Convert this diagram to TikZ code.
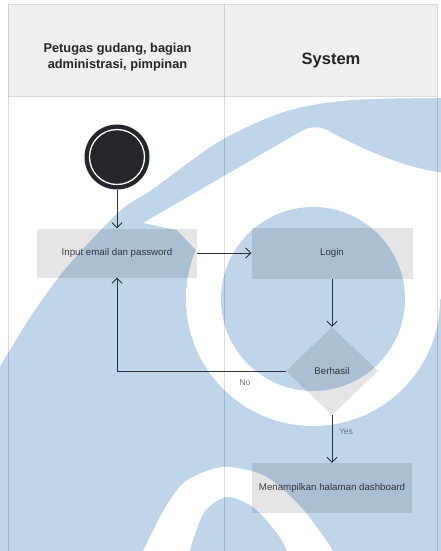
\documentclass[tikz,border=0pt]{standalone}
\usepackage{fontspec}
\setmainfont{Liberation Sans}
\usetikzlibrary{shapes.geometric,arrows.meta}

\definecolor{wmblue}{RGB}{190,213,234}
\definecolor{hdrgrey}{RGB}{239,239,239}
\definecolor{ink}{RGB}{45,48,54}

\begin{document}
\begin{tikzpicture}[x=1pt,y=-1pt,
  act/.style={rectangle, fill=black, fill opacity=0.1, text=black, text opacity=0.72,
    minimum width=160pt, minimum height=50pt, inner sep=2pt,
    font=\fontsize{9.7}{11}\selectfont},
  decision/.style={diamond, fill=black, fill opacity=0.1, text=black, text opacity=0.72,
    minimum width=92pt, minimum height=88pt, inner sep=0pt,
    font=\fontsize{9.7}{11}\selectfont},
  startnode/.style={circle, fill=ink!80!black, minimum size=65pt, inner sep=0pt},
  conn/.style={draw=ink, line width=0.9pt, -{Straight Barb[length=5pt,width=10pt]}},
  lbl/.style={font=\fontsize{8.5}{10}\selectfont, text=black!55},
  hdr/.style={font=\bfseries\fontsize{12.8}{15.5}\selectfont, align=center, text=black!85},
  laneline/.style={draw=black, draw opacity=0.14, line width=1pt}
]
\useasboundingbox (0,0) rectangle (440,551);
\fill[white] (0,0) rectangle (440,551);

% header band of the swimlanes
\fill[hdrgrey] (8,5) rectangle (437,96);

% background emblem
\fill[wmblue] plot[smooth] coordinates {(-5,380) (0,367) (10,350) (33,313) (67,267)
  (120,211) (153,189) (220,141) (287,111) (353,100) (445,98)}
  -- (445,556) -- (-5,556) -- cycle;
\fill[white] (313,299) circle (127pt);
\fill[white] (143,223) -- (300,132) .. controls (310,126) and (318,126) .. (327,130)
  .. controls (350,143) and (400,168) .. (445,173) -- (445,299) -- (313,299)
  -- (196,250) -- (177,230) -- cycle;
\fill[wmblue] (313,299) circle (92pt);
\fill[white] plot[smooth] coordinates {(140,556) (143,551) (165,508) (186,481) (223,467)
  (265,476) (300,506) (326,540) (333,551) (336,556)}
  -- plot[smooth] coordinates {(289,556) (287,551) (277,533) (253,507) (227,497)
  (205,511) (193,540) (190,551) (189,556)} -- cycle;

% swimlane borders
\draw[laneline] (8,5) rectangle (437,560);
\draw[laneline] (224,5) -- (224,560);
\draw[laneline] (8,96) -- (437,96);

% lane titles
\node[hdr] (lane1) at (117.5,57) {Petugas gudang, bagian\\administrasi, pimpinan};
\node[hdr, font=\bfseries\fontsize{16.5}{20}\selectfont] (lane2) at (331,60) {System};

% activities
\node[startnode] (start) at (117,157) {};
\draw[white, line width=1.3pt] (start.center) circle (27.5pt);
\node[act, minimum height=49pt] (input) at (117,253) {Input email dan password};
\node[act, minimum width=161pt, minimum height=51pt] (login) at (332,253) {Login};
\node[decision] (cek) at (332,371) {Berhasil};
\node[act] (dash) at (332,488) {Menampilkan halaman dashboard};

% flow
\draw[conn] (start) -- (input);
\draw[conn] (input) -- (login);
\draw[conn] (login) -- (cek);
\draw[conn] (cek.west) -| (input.south);
\draw[conn] (cek) -- (dash);
\node[lbl] (no) at (245,383) {No};
\node[lbl] (yes) at (346,432) {Yes};
\end{tikzpicture}
\end{document}
